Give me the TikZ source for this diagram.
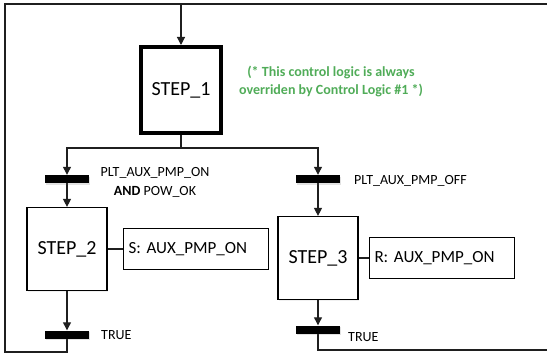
\documentclass[tikz,border=0pt]{standalone}
\usepackage{fontspec}
\setmainfont{Carlito}
\frenchspacing
\usetikzlibrary{arrows.meta,shadows}
\definecolor{notegreen}{RGB}{80,172,88}
\begin{document}
\begin{tikzpicture}[x=1pt,y=-1pt,
  conn/.style={draw=black!88, line width=1.2pt},
  arr/.style={conn,-{Triangle[width=8pt,length=8pt]}},
  softshadow/.style={drop shadow={shadow xshift=1.2pt, shadow yshift=-1.8pt, opacity=0.12}},
  initstep/.style={draw, fill=white, line width=4pt, minimum width=80pt, minimum height=86pt,
    inner sep=0pt, font=\fontsize{20}{24}\selectfont, softshadow},
  stepbox/.style={draw, fill=white, line width=1.2pt, minimum width=80pt, minimum height=83pt,
    inner sep=0pt, font=\fontsize{20}{24}\selectfont, softshadow},
  actbox/.style={draw, fill=white, line width=1.2pt, text width=135pt, minimum height=41pt,
    inner xsep=5pt, inner ysep=0pt, align=left, font=\fontsize{17}{20}\selectfont},
  trans/.style={fill=black, minimum width=44pt, minimum height=8pt, inner sep=0pt, softshadow},
  cond/.style={font=\fontsize{14}{18.6}\selectfont, inner sep=0pt},
]
\useasboundingbox (0,0) rectangle (547,353);

% loop-back frame
\coordinate (topL) at (5,4);
\coordinate (topR) at (547,4);
\coordinate (entry) at (181,4);
\coordinate (botL) at (5,352);
\coordinate (retL) at (67,352);
\coordinate (retR) at (318,350);
\coordinate (exitR) at (547,350);
\coordinate (fork) at (181,148);

% steps
\node[initstep] (s1) at (181,90) {STEP\_1};
\node[stepbox] (s2) at (67,249) {STEP\_2};
\node[stepbox] (s3) at (318,258) {STEP\_3};

% actions
\node[actbox] (a2) at (196,249) {S: AUX\_PMP\_ON};
\node[actbox] (a3) at (442,258) {R: AUX\_PMP\_ON};

% transitions
\node[trans] (t12) at (67,179) {};
\node[trans] (t13) at (318,179) {};
\node[trans] (t2) at (67,334.5) {};
\node[trans] (t3) at (318,329.5) {};

% transition conditions
\node[cond, align=center, anchor=base] (c12) at (155,195.3) {PLT\_AUX\_PMP\_ON\\\textbf{AND} POW\_OK};
\node[cond, anchor=base west] (c13) at (354,185) {PLT\_AUX\_PMP\_OFF};
\node[cond, anchor=base west] (c2) at (101,339) {TRUE};
\node[cond, anchor=base west] (c3) at (348,341.7) {TRUE};

% note
\node[font=\bfseries\fontsize{14}{18}\selectfont, text=notegreen, align=center, inner sep=0pt]
  (note) at (331,81) {(* This control logic is always\\overriden by Control Logic \#1 *)};

% connectors
\draw[conn] (topR) -- (topL) -- (botL) -- (retL) -- (t2.center);
\draw[arr] (entry) -- (s1.north);
\draw[conn] (s1.south) -- (fork);
\draw[arr] (fork) -| (t12.north);
\draw[arr] (fork) -| (t13.north);
\draw[arr] (t12.center) -- (s2.north);
\draw[arr] (t13.center) -- (s3.north);
\draw[arr] (s2.south) -- (t2.north);
\draw[arr] (s3.south) -- (t3.north);
\draw[conn] (t3.center) -- (retR) -- (exitR);
\draw[conn] (s2.east) -- (a2.west);
\draw[conn] (s3.east) -- (a3.west);

% redraw bars over their stems
\node[trans] at (t12) {};
\node[trans] at (t13) {};
\node[trans] at (t2) {};
\node[trans] at (t3) {};
\end{tikzpicture}
\end{document}
